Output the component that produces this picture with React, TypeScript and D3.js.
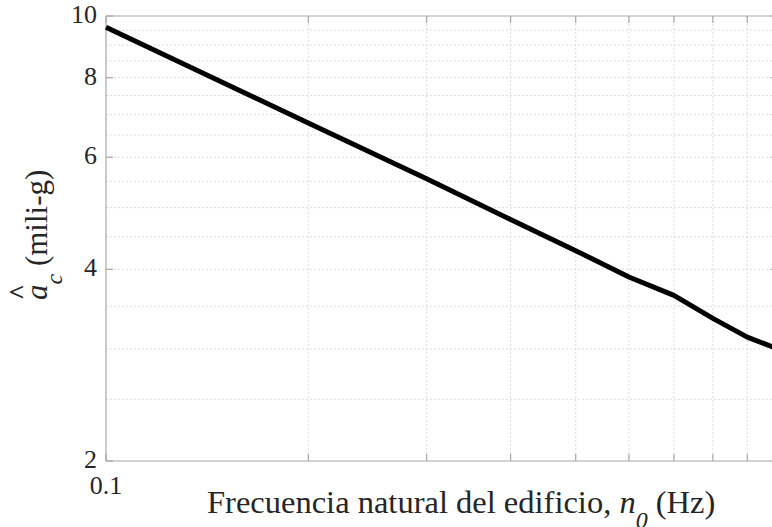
import React from "react";
import * as d3 from "d3";

const freqs = [0.1, 0.2, 0.3, 0.4, 0.5, 0.6, 0.7, 0.8, 0.9, 1.0];
const accel = [9.6, 6.79, 5.55, 4.79, 4.28, 3.89, 3.64, 3.35, 3.13, 3.0];
const xMajorTicks = [0.1, 1];
const xMinorTicks = [0.2, 0.3, 0.4, 0.5, 0.6, 0.7, 0.8, 0.9];
const yMajorTicks = [2, 4, 6, 8, 10];
const yMinorGrid = [2.5, 3, 3.5, 4.5, 5, 5.5, 6.5, 7, 7.5, 8.5, 9, 9.5];

const W = 772;
const H = 527;
const M = { left: 106, top: 16, right: 778, bottom: 461 };
const FONT = "'Liberation Serif', 'Times New Roman', serif";

export default function App() {
  const x = d3.scaleLog().domain([0.1, 1]).range([M.left, M.right]);
  const y = d3.scaleLog().domain([2, 10]).range([M.bottom, M.top]);
  const line = d3
    .line<number>()
    .x((_, i) => x(freqs[i]))
    .y((d) => y(d));
  const axisColor = "#a8a8a8";
  const gridColor = "#dcdcdc";
  const textColor = "#262626";
  const tick = 7;
  const yGrid = [...yMinorGrid, 4, 6, 8];
  return (
    <svg
      width={W}
      height={H}
      style={{ position: "absolute", left: 0, top: 0, background: "#fff" }}
      fontFamily={FONT}
    >
      <rect x={0} y={0} width={W} height={H} fill="#fff" />
      {/* grid */}
      <g stroke={gridColor} strokeWidth={1} strokeDasharray="2,2">
        {xMinorTicks.map((t) => (
          <line key={"gx" + t} x1={x(t)} x2={x(t)} y1={M.top} y2={M.bottom} />
        ))}
        {yGrid.map((t) => (
          <line key={"gy" + t} x1={M.left} x2={M.right} y1={y(t)} y2={y(t)} />
        ))}
      </g>
      {/* axes box */}
      <g stroke={axisColor} strokeWidth={1.2} fill="none">
        <line x1={M.left} x2={M.right} y1={M.top} y2={M.top} />
        <line x1={M.left} x2={M.right} y1={M.bottom} y2={M.bottom} />
        <line x1={M.left} x2={M.left} y1={M.top} y2={M.bottom} />
        <line x1={M.right} x2={M.right} y1={M.top} y2={M.bottom} />
        {[...xMinorTicks, ...xMajorTicks].map((t) => (
          <g key={"tx" + t}>
            <line x1={x(t)} x2={x(t)} y1={M.bottom} y2={M.bottom - tick} />
            <line x1={x(t)} x2={x(t)} y1={M.top} y2={M.top + tick} />
          </g>
        ))}
        {yMajorTicks.map((t) => (
          <g key={"ty" + t}>
            <line x1={M.left} x2={M.left + tick} y1={y(t)} y2={y(t)} />
            <line x1={M.right} x2={M.right - tick} y1={y(t)} y2={y(t)} />
          </g>
        ))}
      </g>
      {/* data */}
      <path d={line(accel) || ""} fill="none" stroke="#000" strokeWidth={5} strokeLinejoin="round" />
      {/* tick labels */}
      <g fill={textColor} fontSize={26}>
        {yMajorTicks.map((t) => (
          <text key={"ly" + t} x={M.left - 9} y={y(t) + 1} textAnchor="end" dominantBaseline="middle">
            {t}
          </text>
        ))}
        {xMajorTicks.map((t) => (
          <text key={"lx" + t} x={x(t)} y={494} textAnchor="middle">
            {t}
          </text>
        ))}
      </g>
      {/* x label */}
      <text x={207} y={513} textAnchor="start" fill={textColor} fontSize={32.5}>
        Frecuencia natural del edificio,{" "}
        <tspan fontStyle="italic">n</tspan>
        <tspan fontStyle="italic" fontSize={24} dy={15}>0</tspan>
        <tspan dy={-15}> (Hz)</tspan>
      </text>
      {/* y label */}
      <g transform="translate(47,300) rotate(-90)" fill={textColor} fontSize={31}>
        <text x={0} y={0}>
          <tspan fontStyle="italic">a</tspan>
          <tspan fontStyle="italic" fontSize={24} dy={15}>c</tspan>
          <tspan dy={-15}> (mili-g)</tspan>
        </text>
        <text x={8} y={-19} textAnchor="middle" fontSize={28} fontWeight="bold">^</text>
      </g>
    </svg>
  );
}
